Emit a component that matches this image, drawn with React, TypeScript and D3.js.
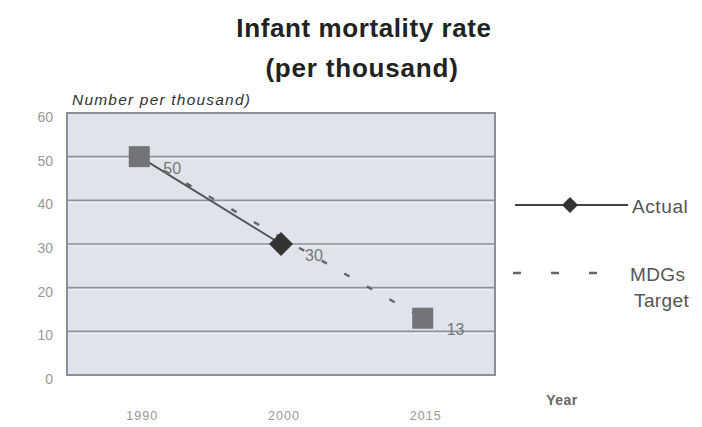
import React from "react";
import * as d3 from "d3";

const years = ["1990", "2000", "2015"];
const actualYears = ["1990", "2000"];
const actualValues = [50, 30];
const targetYears = ["1990", "2015"];
const targetValues = [50, 13];
const yTicks = [0, 10, 20, 30, 40, 50, 60];
const pointLabels = [
  { year: "1990", value: 50 },
  { year: "2000", value: 30 },
  { year: "2015", value: 13 },
];

const W = 702;
const H = 427;
const plot = { left: 67, right: 495, top: 113, bottom: 375 };

export default function App() {
  const x = d3
    .scalePoint<string>()
    .domain(years)
    .range([plot.left, plot.right])
    .padding(0.51);
  const y = d3.scaleLinear().domain([0, 60]).range([plot.bottom, plot.top]);

  const line = d3
    .line<[string, number]>()
    .x((d) => x(d[0])!)
    .y((d) => y(d[1]));

  const actualPts: [string, number][] = actualYears.map((yr, i) => [yr, actualValues[i]]);
  const targetPts: [string, number][] = targetYears.map((yr, i) => [yr, targetValues[i]]);

  const font = "'Liberation Sans', Arial, sans-serif";
  const sq = 21;
  const dia = 12;

  return (
    <div style={{ position: "fixed", left: 0, top: 0 }}>
      <svg width={W} height={H} style={{ display: "block", background: "#fff" }} fontFamily={font}>
        {/* title */}
        <text x={364} y={37} textAnchor="middle" fontSize={26} fontWeight="bold" fill="#222" letterSpacing={0.6}>
          Infant mortality rate
        </text>
        <text x={362} y={77} textAnchor="middle" fontSize={26} fontWeight="bold" fill="#222" letterSpacing={0.8}>
          (per thousand)
        </text>

        {/* y-axis title */}
        <text x={72} y={105} fontSize={15.5} fontStyle="italic" fill="#333" letterSpacing={1.2}>
          Number per thousand)
        </text>

        {/* plot background */}
        <rect
          x={plot.left}
          y={plot.top}
          width={plot.right - plot.left}
          height={plot.bottom - plot.top}
          fill="#dfe4ec"
          stroke="#8c8f95"
          strokeWidth={2}
        />

        {/* gridlines */}
        {yTicks
          .filter((t) => t > 0 && t < 60)
          .map((t) => (
            <g key={t}>
              <line x1={plot.left + 1} x2={plot.right - 1} y1={y(t)} y2={y(t)} stroke="#8e939b" strokeWidth={1.6} />
              <line x1={plot.left + 1} x2={plot.right - 1} y1={y(t) + 2} y2={y(t) + 2} stroke="#eef1f5" strokeWidth={1} />
            </g>
          ))}

        {/* y tick labels */}
        {yTicks.map((t) => (
          <text key={t} x={53} y={y(t) + 9} textAnchor="end" fontSize={14} fill="#999">
            {t}
          </text>
        ))}

        {/* x tick labels */}
        {years.map((yr) => (
          <text key={yr} x={x(yr)! + 3} y={420} textAnchor="middle" fontSize={12.5} fill="#999" letterSpacing={1}>
            {yr}
          </text>
        ))}
        <text x={562} y={405} textAnchor="middle" fontSize={14} fontWeight="bold" fill="#666" letterSpacing={0.5}>
          Year
        </text>

        {/* MDGs target (dashed) */}
        <path d={line(targetPts)!} fill="none" stroke="#666" strokeWidth={2.5} strokeDasharray="6 20" strokeDashoffset={-28} />

        {/* actual (solid) */}
        <path d={line(actualPts)!} fill="none" stroke="#555" strokeWidth={2} />

        {/* markers */}
        {targetPts.map(([yr, v]) => (
          <rect key={yr} x={x(yr)! - sq / 2} y={y(v) - sq / 2} width={sq} height={sq} fill="#727478" />
        ))}
        {actualPts.slice(1).map(([yr, v]) => (
          <path
            key={yr}
            d={`M${x(yr)! - dia},${y(v)} L${x(yr)!},${y(v) - dia} L${x(yr)! + dia},${y(v)} L${x(yr)!},${y(v) + dia} Z`}
            fill="#333"
          />
        ))}

        {/* value labels */}
        {pointLabels.map((p) => (
          <text key={p.year} x={x(p.year)! + 24} y={y(p.value) + 17} fontSize={16} fill="#777">
            {p.value}
          </text>
        ))}

        {/* legend */}
        <line x1={515} x2={628} y1={205} y2={205} stroke="#444" strokeWidth={2} />
        <path d="M562,205 L570,197 L578,205 L570,213 Z" fill="#333" />
        <text x={632} y={213} fontSize={19} fill="#555" letterSpacing={0.6}>
          Actual
        </text>
        <line x1={513} x2={626} y1={273} y2={273} stroke="#666" strokeWidth={2.5} strokeDasharray="8 30" />
        <text x={630} y={281} fontSize={19} fill="#555" letterSpacing={0.4}>
          MDGs
        </text>
        <text x={634} y={307} fontSize={19} fill="#555" letterSpacing={0.4}>
          Target
        </text>
      </svg>
    </div>
  );
}
